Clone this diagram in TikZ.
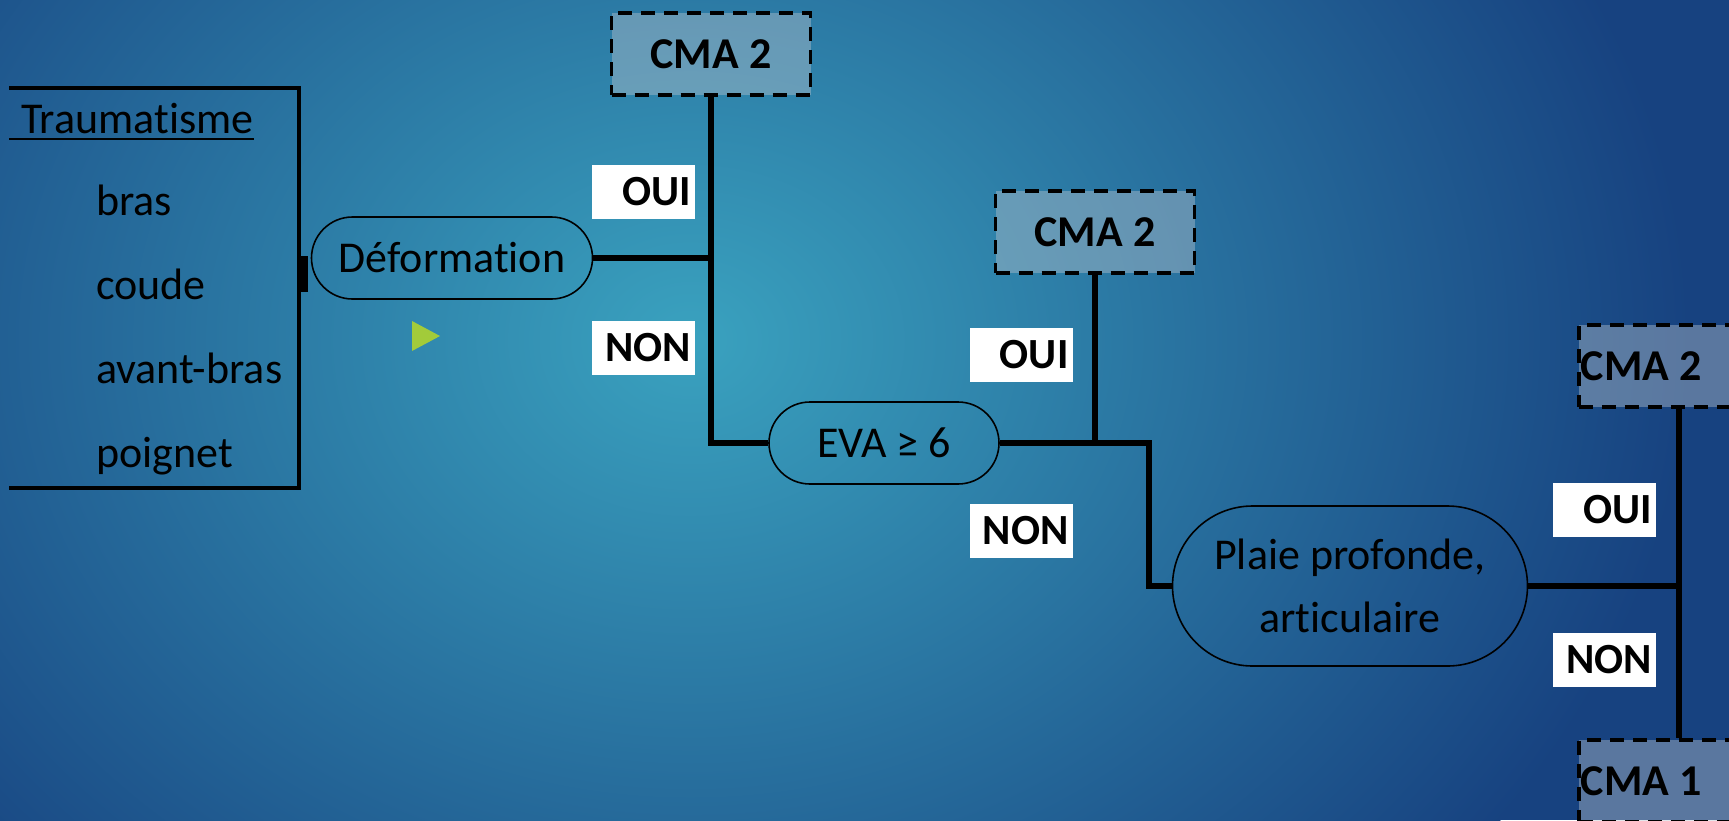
\documentclass[tikz,border=0pt]{standalone}
\usepackage{fontspec}
\setmainfont{Carlito}[Ligatures=NoCommon]
\usetikzlibrary{shapes.misc}
\definecolor{bginner}{HTML}{3AA2BF}
\definecolor{bgouter}{HTML}{174280}
\definecolor{cmafill}{HTML}{B8C2CC}
\definecolor{arrowgreen}{HTML}{A2CB3A}
\tikzset{
  conn/.style={line width=5.5pt},
  decision/.style={draw=black, line width=1.6pt, rounded rectangle, inner sep=0pt,
    font=\fontsize{44}{63}\selectfont, align=center},
  cmabox/.style={draw=black, dash pattern=on 14pt off 9pt, line width=3.5pt,
    fill=cmafill, fill opacity=0.42, text opacity=1, inner sep=2pt,
    minimum height=82pt, font=\fontsize{44}{53}\selectfont\bfseries},
  yn/.style={fill=white, minimum height=54pt, text width=95pt, inner xsep=4pt, inner ysep=0pt,
    align=flush right, font=\fontsize{43}{50}\selectfont\bfseries},
  listtext/.style={anchor=base west, inner sep=0pt, font=\fontsize{44}{53}\selectfont},
  bracket/.style={line width=4pt}
}
\begin{document}
\begin{tikzpicture}[x=1pt,y=-1pt]
\useasboundingbox (0,0) rectangle (1729,820);
\clip (0,0) rectangle (1729,820);
% background
\fill[bgouter] (0,0) rectangle (1729,820);
\shade[inner color=bginner, outer color=bgouter] (690,340) ellipse (1000pt and 820pt);

% bracket list
\draw[bracket] (9,88) -- (299,88) -- (299,488) -- (9,488);
\node[listtext] (trauma) at (21,133) {Traumatisme};
\draw[line width=2.5pt] (9,139) -- (trauma.base east |- 0,139);
\node[listtext] (bras) at (96,215) {bras};
\node[listtext] (coude) at (96,299) {coude};
\node[listtext] (avbras) at (96,383) {avant-bras};
\node[listtext] (poignet) at (96,467) {poignet};

% decision nodes
\node[decision, minimum width=281pt, minimum height=82pt] (def) at (452,258) {Déformation};
\node[decision, minimum width=230pt, minimum height=82pt] (eva) at (884,443) {EVA ≥ 6};
\node[decision, minimum width=355pt, minimum height=160pt] (plaie) at (1350,586) {Plaie profonde,\\articulaire};

% outcome boxes
\node[cmabox, minimum width=199pt] (cmaA) at (711,54) {CMA 2};
\node[cmabox, minimum width=199pt] (cmaB) at (1095,232) {CMA 2};
\node[cmabox, anchor=west, text width=196pt, align=flush left] (cmaC) at (1577,366) {CMA 2};
\node[cmabox, anchor=west, text width=196pt, align=flush left] (cmaD) at (1577,781) {CMA 1};

% small link between bracket and Déformation
\fill[black] (300,256) rectangle (308,292);

% connectors
\coordinate (j1) at (cmaA.south |- def.east);
\draw[conn] (def.east) -- (j1);
\draw[conn] (cmaA.south) -- (j1) |- (eva.west);
\coordinate (j2) at (cmaB.south |- eva.east);
\coordinate (j2b) at (1149,443);
\draw[conn] (cmaB.south) -- (j2);
\draw[conn] (eva.east) -- (j2b) |- (plaie.west);
\coordinate (j3) at (cmaC.south |- plaie.east);
\draw[conn] (plaie.east) -- (j3);
\draw[conn] (cmaC.south) -- (cmaD.north);

% yes / no labels
\node[yn] (oui1) at (643.5,192) {OUI};
\node[yn] (non1) at (643.5,348) {NON};
\node[yn] (oui2) at (1021,354.5) {OUI};
\node[yn] (non2) at (1021,531) {NON};
\node[yn] (oui3) at (1604.5,509.5) {OUI};
\node[yn] (non3) at (1604.5,660) {NON};

% green marker
\fill[arrowgreen] (412,321) -- (440,336) -- (412,351) -- cycle;
\end{tikzpicture}
\end{document}
